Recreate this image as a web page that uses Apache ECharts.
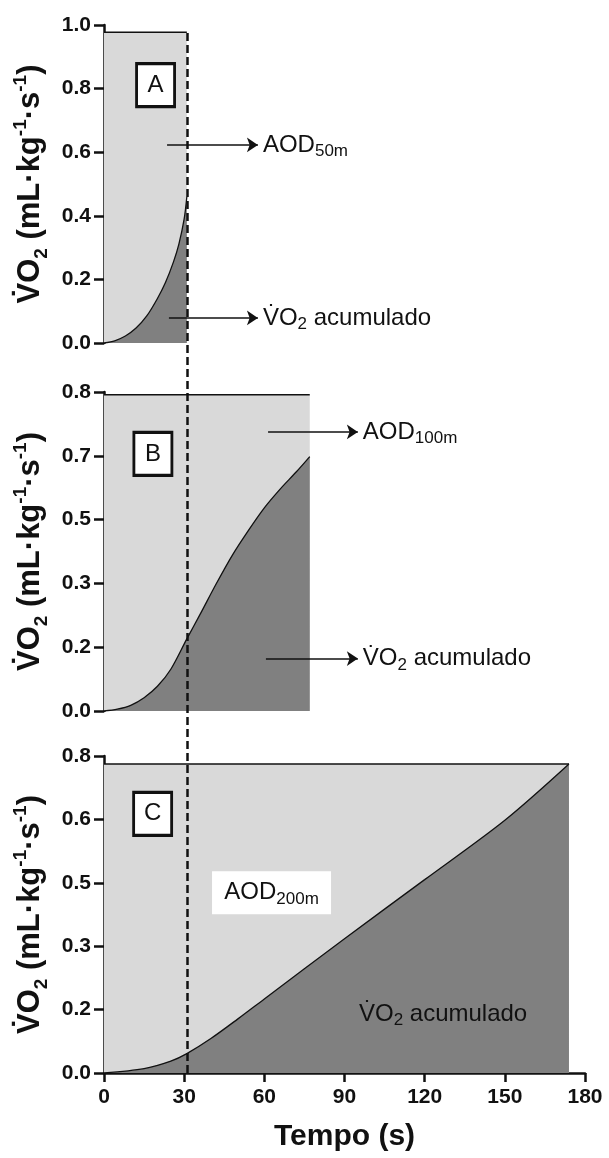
<!DOCTYPE html>
<html><head><meta charset="utf-8">
<script src="https://cdn.jsdelivr.net/npm/echarts@6/dist/echarts.min.js"></script>
<style>html,body{margin:0;padding:0;background:#fff}#c{width:609px;height:1158px}</style>
</head><body><div id="c"></div>
<script>
// ---- data ----
const xTickLabels = ['0', '30', '60', '90', '120', '150', '180'];
const yTickLabelsA = ['0.0', '0.2', '0.4', '0.6', '0.8', '1.0'];
const yTickLabelsB = ['0.0', '0.2', '0.3', '0.5', '0.7', '0.8'];
const yTickLabelsC = ['0.0', '0.2', '0.3', '0.5', '0.6', '0.8'];
const yMaxA = 1.0, yMaxB = 0.84, yMaxC = 0.8;
const xMax = 180;

// Panel A (50 m)
const timeA = [0, 4, 8, 12, 16, 20, 23, 26, 28, 30, 31];
const vo2A  = [0, 0.007, 0.022, 0.047, 0.085, 0.14, 0.19, 0.255, 0.31, 0.39, 0.46];
const demandA = 0.977;
// Panel B (100 m)
const timeB = [0, 5, 10, 15, 20, 25, 31, 36, 42, 48, 54, 60, 66, 72, 77];
const vo2B  = [0, 0.005, 0.015, 0.035, 0.065, 0.11, 0.19, 0.255, 0.335, 0.41, 0.475, 0.535, 0.585, 0.63, 0.67];
const demandB = 0.833;
// Panel C (200 m)
const timeC = [0, 15, 25, 31, 40, 50, 60, 90, 120, 150, 174];
const vo2C  = [0, 0.011, 0.03, 0.049, 0.087, 0.136, 0.187, 0.339, 0.488, 0.638, 0.78];
const demandC = 0.78;

const dashedTime = 31;
const panelLetters = ['A', 'B', 'C'];

// ---- styling ----
const FF = 'Liberation Sans, Arial, Helvetica, sans-serif';
const INK = '#111';
const LIGHT = '#d9d9d9';
const DARK = '#808080';

const pairs = (t, v) => t.map((x, i) => [x, v[i]]);

const yName = '{b|V\u0307O}{sub|2}{b| (mL\u00b7kg}{sup|-1}{b|\u00b7s}{sup|-1}{b|)}';
const yNameStyle = {
  fontFamily: FF, fontWeight: 'bold', fontSize: 31, color: INK,
  rich: {
    b: { fontFamily: FF, fontWeight: 'bold', fontSize: 31, color: INK, lineHeight: 40 },
    sup: { fontFamily: FF, fontWeight: 'bold', fontSize: 19, color: INK, lineHeight: 19, verticalAlign: 'top' },
    sub: { fontFamily: FF, fontWeight: 'bold', fontSize: 19, color: INK, lineHeight: 19, verticalAlign: 'bottom' }
  }
};
const annRich = {
  n: { fontFamily: FF, fontSize: 24, color: INK, lineHeight: 30 },
  s: { fontFamily: FF, fontSize: 17, color: INK, lineHeight: 17, verticalAlign: 'bottom' }
};

function yAxis(gi, max, labels) {
  return {
    type: 'value', gridIndex: gi, min: 0, max: max, interval: max / 5,
    axisLine: { show: true, lineStyle: { color: INK, width: 2.5 } },
    axisTick: { show: true, length: 10, lineStyle: { color: INK, width: 2.5 } },
    axisLabel: {
      margin: 13, fontSize: 21, fontWeight: 'bold', color: INK, fontFamily: FF,
      formatter: v => labels[Math.round(v / max * 5)]
    },
    splitLine: { show: false },
    name: yName, nameLocation: 'middle', nameRotate: 90, nameGap: 43,
    nameTextStyle: yNameStyle
  };
}
function hiddenX(gi) {
  return { type: 'value', gridIndex: gi, min: 0, max: xMax, interval: 30, show: false };
}

const left = 104, width = 481;
const grids = [
  { left, width, top: 25, height: 318 },
  { left, width, top: 392, height: 319 },
  { left, width, top: 756, height: 317 },
  { left, width, top: 32, height: 1041 }
].map(g => Object.assign({ outerBoundsMode: 'none', containLabel: false }, g));

function demandSeries(gi, tEnd, top, extra) {
  return Object.assign({
    type: 'line', xAxisIndex: gi, yAxisIndex: gi, symbol: 'none', silent: true,
    data: [[0, top], [tEnd, top]],
    lineStyle: { color: INK, width: 1.5 },
    areaStyle: { color: LIGHT, opacity: 1 },
    z: 2
  }, extra || {});
}
function uptakeSeries(gi, t, v) {
  return {
    type: 'line', xAxisIndex: gi, yAxisIndex: gi, symbol: 'none', silent: true,
    data: pairs(t, v), smooth: 0.3,
    lineStyle: { color: INK, width: 1.3 },
    areaStyle: { color: DARK, opacity: 1 },
    z: 3
  };
}
function arrows(items) {
  return {
    silent: true, symbol: ['none', 'arrow'], symbolSize: 11, animation: false,
    lineStyle: { color: INK, width: 1.5, type: 'solid' },
    label: { show: true, position: 'end', distance: 5, formatter: '{b}', rich: annRich },
    emphasis: { disabled: true },
    data: items.map(it => [
      { name: it.text, coord: [it.x0, it.y] },
      { name: it.text, coord: [it.x1, it.y] }
    ])
  };
}
function letterBox(letter, x, y) {
  return {
    name: letter, coord: [x, y], symbol: 'rect', symbolSize: [38, 43],
    itemStyle: { color: '#fff', borderColor: INK, borderWidth: 3 },
    label: { show: true, position: 'inside', formatter: letter, fontFamily: FF, fontSize: 24, color: INK }
  };
}

const option = {
  animation: false,
  backgroundColor: '#fff',
  grid: grids,
  xAxis: [
    hiddenX(0), hiddenX(1),
    {
      type: 'value', gridIndex: 2, min: 0, max: xMax, interval: 30,
      axisLine: { show: true, lineStyle: { color: INK, width: 2.5 } },
      axisTick: { show: true, length: 9, lineStyle: { color: INK, width: 2.5 } },
      axisLabel: {
        margin: 14, fontSize: 21, fontWeight: 'bold', color: INK, fontFamily: FF,
        formatter: v => xTickLabels[Math.round(v / 30)]
      },
      splitLine: { show: false },
      name: 'Tempo (s)', nameLocation: 'middle', nameGap: 49,
      nameTextStyle: { fontFamily: FF, fontWeight: 'bold', fontSize: 30, color: INK }
    },
    hiddenX(3)
  ],
  yAxis: [
    yAxis(0, yMaxA, yTickLabelsA),
    yAxis(1, yMaxB, yTickLabelsB),
    yAxis(2, yMaxC, yTickLabelsC),
    { type: 'value', gridIndex: 3, min: 0, max: 1, show: false }
  ],
  series: [
    // A
    demandSeries(0, timeA[timeA.length - 1], demandA, {
      markLine: arrows([
        { text: '{n|AOD}{s|50m}', x0: 23.6, x1: 57.6, y: 0.623 },
        { text: '{n|V\u0307O}{s|2}{n| acumulado}', x0: 24.3, x1: 57.6, y: 0.079 }
      ]),
      markPoint: { silent: true, animation: false, data: [letterBox(panelLetters[0], 19.3, 0.811)] }
    }),
    uptakeSeries(0, timeA, vo2A),
    // B
    demandSeries(1, timeB[timeB.length - 1], demandB, {
      markLine: arrows([
        { text: '{n|AOD}{s|100m}', x0: 61.4, x1: 95, y: 0.735 },
        { text: '{n|V\u0307O}{s|2}{n| acumulado}', x0: 60.6, x1: 95, y: 0.138 }
      ]),
      markPoint: { silent: true, animation: false, data: [letterBox(panelLetters[1], 18.3, 0.677)] }
    }),
    uptakeSeries(1, timeB, vo2B),
    // C
    demandSeries(2, timeC[timeC.length - 1], demandC, {
      markPoint: {
        silent: true, animation: false, z: 20,
        data: [
          letterBox(panelLetters[2], 18.2, 0.654),
          {
            name: 'aod200', coord: [62.7, 0.455], symbol: 'rect', symbolSize: [119, 43],
            itemStyle: { color: '#fff', borderWidth: 0 },
            label: { show: true, position: 'inside', formatter: '{n|AOD}{s|200m}', rich: annRich }
          }
        ]
      }
    }),
    uptakeSeries(2, timeC, vo2C),
    {
      type: 'line', xAxisIndex: 2, yAxisIndex: 2, data: [], silent: true, z: 6,
      markPoint: {
        silent: true, animation: false,
        data: [{
          name: 'acc', coord: [126.9, 0.149], symbol: 'rect', symbolSize: 1,
          itemStyle: { color: 'rgba(0,0,0,0)' },
          label: { show: true, position: 'inside', formatter: '{n|V\u0307O}{s|2}{n| acumulado}', rich: annRich }
        }]
      }
    },
    // dashed reference line at ~31 s across all panels
    {
      type: 'line', xAxisIndex: 3, yAxisIndex: 3, data: [], silent: true, z: 10,
      markLine: {
        silent: true, symbol: 'none', animation: false, label: { show: false },
        lineStyle: { color: INK, width: 2.5, type: [8, 4] },
        data: [{ xAxis: dashedTime }]
      }
    }
  ]
};

const chart = echarts.init(document.getElementById('c'), null, { renderer: 'canvas' });
chart.setOption(option);
</script>
</body></html>
